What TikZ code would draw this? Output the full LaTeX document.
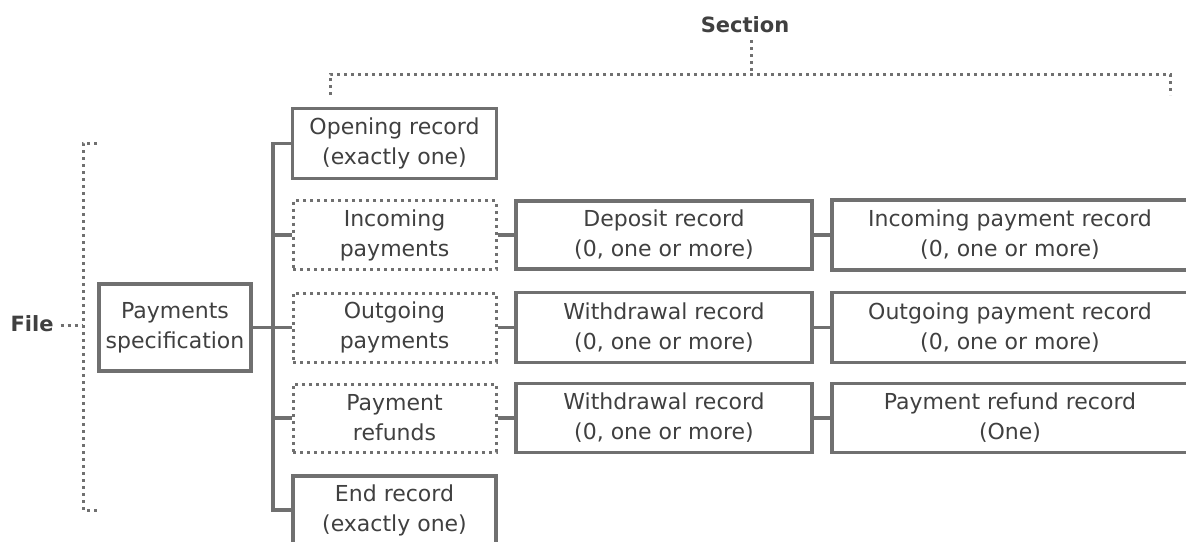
\documentclass[tikz,border=0pt]{standalone}
\usepackage{fontspec}
\setmainfont{DejaVu Sans}
\definecolor{lc}{HTML}{707070}
\definecolor{tc}{HTML}{404040}
\begin{document}
\begin{tikzpicture}[x=1pt,y=-1pt,
  line/.style={draw=lc, line width=3.5pt},
  box/.style={rectangle, draw=lc, line width=3.5pt, fill=white, text=tc, align=center, inner sep=0pt, font=\fontsize{22}{30}\selectfont},
  dbox/.style={box, line width=3pt, dash pattern=on 3pt off 4pt},
  dline/.style={draw=lc, line width=3pt, dash pattern=on 3pt off 4pt},
  lbl/.style={text=tc, inner sep=7pt, font=\bfseries\fontsize{21}{24}\selectfont}
]
\clip (0,0) rectangle (1186,541);
\fill[white] (0,0) rectangle (1186,541);
% labels
\node[lbl] (sec) at (745,25) {Section};
\node[lbl] (file) at (32,324) {File};
% brackets
\draw[dline] (330,95) -- (330,74) -- (1170,74) -- (1170,95);
\draw[dline] (97,143) -- (83,143) -- (83,510) -- (97,510);
\coordinate (sb) at (751,72);
\coordinate (fb) at (83,325);
\draw[dline] (sec.south -| sb) -- (sb);
\draw[dline] (file.east |- fb) -- (fb);
% nodes
\node[box, minimum width=152, minimum height=87] (ps) at (175,327.5) {Payments\\specification};
\node[box, minimum width=204, minimum height=70] (or) at (394.5,143.5) {Opening record\\(exactly one)};
\node[dbox, minimum width=203, minimum height=69] (ip) at (394.5,235) {Incoming\\payments};
\node[dbox, minimum width=203, minimum height=69] (op) at (394.5,327.5) {Outgoing\\payments};
\node[dbox, minimum width=203, minimum height=68] (pr) at (394.5,418) {Payment\\refunds};
\node[box, minimum width=203, minimum height=68] (er) at (394.5,510) {End record\\(exactly one)};
\node[box, minimum width=296, minimum height=68] (dr) at (664,235) {Deposit record\\(0, one or more)};
\node[box, minimum width=296, minimum height=70] (wr1) at (664,327.5) {Withdrawal record\\(0, one or more)};
\node[box, minimum width=296, minimum height=69] (wr2) at (664,418) {Withdrawal record\\(0, one or more)};
\node[box, minimum width=356, minimum height=70] (ipr) at (1010,235) {Incoming payment record\\(0, one or more)};
\node[box, minimum width=356, minimum height=70] (opr) at (1010,327.5) {Outgoing payment record\\(0, one or more)};
\node[box, minimum width=356, minimum height=69] (prr) at (1010,418) {Payment refund record\\(One)};
% connectors
\coordinate (sp) at (273,327.5);
\draw[line] (ps.east) -- (sp);
\foreach \n in {or,ip,op,pr,er} \draw[line] (sp) |- (\n.west);
\draw[line] (ip.east) -- (dr.west);
\draw[line] (op.east) -- (wr1.west);
\draw[line] (pr.east) -- (wr2.west);
\draw[line] (dr.east) -- (ipr.west);
\draw[line] (wr1.east) -- (opr.west);
\draw[line] (wr2.east) -- (prr.west);
\end{tikzpicture}
\end{document}
